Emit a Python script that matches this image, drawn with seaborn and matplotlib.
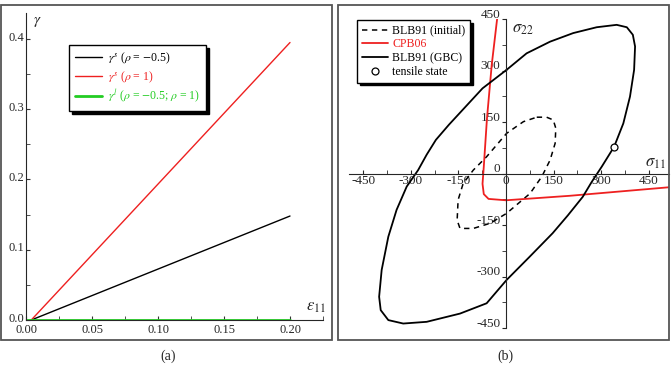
import numpy as np
import pandas as pd
import matplotlib
matplotlib.use('Agg')
import matplotlib.pyplot as plt
import matplotlib.patches as mpatches
import matplotlib.transforms as mtransforms
from matplotlib.ticker import MultipleLocator
import seaborn as sns

# panel (a): shear strain vs eps11
eps_end = [0.004, 0.20]
gam_s_neg = [0.0, 0.148]     # rho = -0.5
gam_s_one = [0.0, 0.395]     # rho = 1
eps_l = [0.0, 0.20]
gam_l = [0.0, 0.0]

# panel (b): yield loci in sigma11-sigma22 plane
gbc_s11 = [2, 65, 139, 212, 286, 349, 381, 400, 407, 404, 391, 370, 341, 302, 270, 242,
           195, 147, 74, 2, -61, -145, -250, -324, -371, -395, -400, -392, -371, -345,
           -313, -277, -250, -221, -180, -137, -74, 2]
gbc_s22 = [302, 350, 384, 409, 426, 433, 426, 404, 370, 302, 224, 146, 78, 20, -25, -68,
           -122, -174, -243, -310, -378, -408, -432, -437, -427, -398, -359, -281, -184,
           -106, -38, 10, 55, 98, 142, 185, 248, 302]
ini_s11 = [97, 128, 149, 157, 155, 139, 113, 76, 2, -50, -103, -145, -154, -151, -135,
           -103, -61, 2, 55, 97]
ini_s22 = [164, 164, 156, 132, 88, 39, -9, -58, -116, -145, -160, -160, -136, -77, -29,
           10, 49, 117, 151, 164]
cpb_s11 = [-28, -45, -60, -70, -74, -70, -55, 0, 200, 515]
cpb_s22 = [450, 316, 160, 20, -30, -60, -74, -78, -65, -40]
tens_s11 = [341]
tens_s22 = [78]

sns.set_style('ticks')
plt.rcParams['font.family'] = ['Liberation Serif', 'DejaVu Serif']
plt.rcParams['mathtext.fontset'] = 'stix'

fig = plt.figure(figsize=(6.72, 3.73), dpi=100)

# panel frames
for x0 in [1, 338]:
    fig.add_artist(mpatches.Rectangle((x0 / 672, 1 - 340 / 373), 331 / 672, 335 / 373,
                                      transform=fig.transFigure, fill=False,
                                      edgecolor='#555555', lw=1.3))

shadow = {'color': 'black', 'alpha': 1}

# ---- (a)
ax1 = fig.add_axes([26 / 672, 1 - 320 / 373, 297 / 672, 307 / 373])
sns.lineplot(x=eps_end, y=gam_s_neg, ax=ax1, color='black', lw=1,
             label=r'$\gamma^s$ ($\rho$ = $-$0.5)')
sns.lineplot(x=eps_end, y=gam_s_one, ax=ax1, color='#ee2020', lw=1,
             label=r'$\gamma^s$ ($\rho$ = 1)')
sns.lineplot(x=eps_l, y=gam_l, ax=ax1, color='#22cc22', lw=2,
             label=r'$\gamma^l$ ($\rho$ = $-$0.5; $\rho$ = 1)')
ax1.set_xlim(0, 0.225)
ax1.set_ylim(0, 0.437)
ax1.set_xticks([0, 0.05, 0.10, 0.15, 0.20])
ax1.set_xticklabels(['0.00', '0.05', '0.10', '0.15', '0.20'])
ax1.set_yticks([0, 0.1, 0.2, 0.3, 0.4])
ax1.set_yticklabels(['0.0', '0.1', '0.2', '0.3', '0.4'])
ax1.xaxis.set_minor_locator(MultipleLocator(0.025))
ax1.yaxis.set_minor_locator(MultipleLocator(0.05))
ax1.tick_params(which='both', direction='in', labelsize=9, length=3, color='#333333')
ax1.tick_params(axis='x', pad=3)
ax1.tick_params(axis='y', pad=1)
up1 = mtransforms.ScaledTranslation(0, 2 / 72, fig.dpi_scale_trans)
for lab in ax1.get_yticklabels():
    lab.set_transform(lab.get_transform() + up1)
sns.despine(ax=ax1)
ax1.set_xlabel('')
ax1.set_ylabel('')
ax1.text(0.024, 0.995, r'$\gamma$', transform=ax1.transAxes, fontsize=11, va='top')
ax1.text(0.975, 0.015, r'$\varepsilon_{11}$', transform=ax1.transAxes, fontsize=12,
         ha='center', va='bottom')
leg1 = ax1.legend(loc='upper left', bbox_to_anchor=(0.145, 0.896), borderaxespad=0,
                  fontsize=8.5, fancybox=False, framealpha=1, edgecolor='black',
                  shadow=shadow, labelcolor='linecolor', handlelength=2.3,
                  handletextpad=0.5, labelspacing=0.25, borderpad=0.5)

# ---- (b)
ax2 = fig.add_axes([349 / 672, 1 - 328 / 373, 320 / 672, 309 / 373])
sns.lineplot(x=ini_s11, y=ini_s22, ax=ax2, sort=False, estimator=None, color='black',
             lw=1.1, linestyle=(0, (3.5, 3)), label='BLB91 (initial)')
sns.lineplot(x=cpb_s11, y=cpb_s22, ax=ax2, sort=False, estimator=None, color='#ee2020',
             lw=1.3, label='CPB06')
sns.lineplot(x=gbc_s11, y=gbc_s22, ax=ax2, sort=False, estimator=None, color='black',
             lw=1.3, label='BLB91 (GBC)')
ax2.plot(tens_s11, tens_s22, 'o', ms=5, mfc='white', mec='black', mew=0.9,
         label='tensile state', zorder=5)
ax2.set_xlim(-495, 514)
ax2.set_ylim(-450, 450)
ax2.spines['left'].set_position(('data', 0))
ax2.spines['bottom'].set_position(('data', 0))
sns.despine(ax=ax2)
ticks_b = [-450, -300, -150, 0, 150, 300, 450]
ax2.set_xticks(ticks_b)
ax2.set_xticklabels([str(t) for t in ticks_b])
ax2.set_yticks(ticks_b)
ax2.set_yticklabels([str(t) for t in ticks_b])
ax2.xaxis.set_minor_locator(MultipleLocator(75))
ax2.yaxis.set_minor_locator(MultipleLocator(75))
ax2.tick_params(axis='x', which='both', direction='in', length=3, labelsize=9.5, pad=1)
ax2.tick_params(axis='y', which='both', direction='out', length=3, labelsize=9.5, pad=1)
up = mtransforms.ScaledTranslation(0, 4 / 72, fig.dpi_scale_trans)
for lab in ax2.get_yticklabels():
    lab.set_transform(lab.get_transform() + up)
ax2.set_xlabel('')
ax2.set_ylabel('')
ax2.text(0.508, 0.995, r'$\sigma_{22}$', transform=ax2.transAxes, fontsize=12, va='top')
ax2.text(0.956, 0.535, r'$\sigma_{11}$', transform=ax2.transAxes, fontsize=12,
         ha='center', va='center')
leg2 = ax2.legend(loc='upper left', bbox_to_anchor=(0.025, 0.997), borderaxespad=0,
                  fontsize=8.5, fancybox=False, framealpha=1, edgecolor='black',
                  shadow=shadow, handlelength=2.2, handletextpad=0.4,
                  labelspacing=0.15, borderpad=0.4)
for txt, col in zip(leg2.get_texts(), ['black', '#ee2020', 'black', 'black']):
    txt.set_color(col)

fig.text(168 / 672, 1 - 356 / 373, '(a)', ha='center', va='center', fontsize=10)
fig.text(505 / 672, 1 - 356 / 373, '(b)', ha='center', va='center', fontsize=10)

fig.savefig('out.png', dpi=100)
